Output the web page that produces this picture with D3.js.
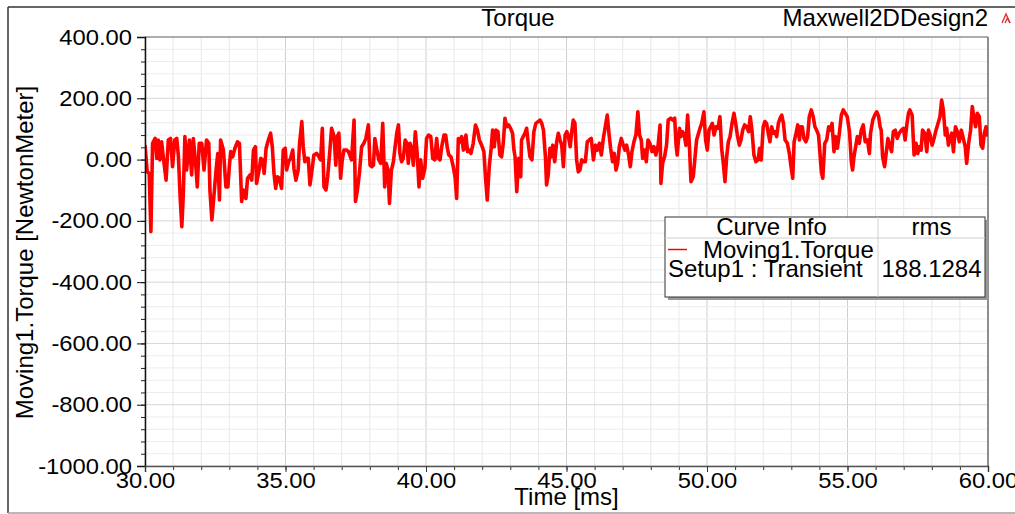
<!DOCTYPE html>
<html>
<head>
<meta charset="utf-8">
<script src="https://cdn.jsdelivr.net/npm/d3@7"></script>
<style>
body { margin: 0; background: #fff; }
text { font-family: "Liberation Sans", Arial, sans-serif; fill: #000; }
</style>
</head>
<body>
<div id="vizArea"></div>
<script>
// torque samples: [time in ms, torque in N.m]
const torqueSamples = [
  [30.00,47],[30.08,-40],[30.15,-45],[30.21,-235],[30.27,53],[30.36,69],[30.42,4],[30.47,64],[30.53,-1],[30.59,58],
  [30.65,9],[30.75,-67],[30.83,64],[30.91,69],[30.98,-23],[31.06,64],[31.13,69],[31.19,9],[31.25,-121],[31.31,-219],
  [31.36,-121],[31.42,75],[31.48,-34],[31.58,64],[31.66,-50],[31.72,69],[31.82,-34],[31.86,-89],[31.93,53],[32.02,53],
  [32.10,-34],[32.19,64],[32.27,53],[32.31,-99],[32.38,-197],[32.46,-110],[32.53,-34],[32.59,20],[32.65,-132],[32.69,64],
  [32.79,31],[32.88,-89],[32.95,-89],[33.00,-23],[33.05,26],[33.12,9],[33.20,37],[33.29,58],[33.36,53],[33.44,-137],
  [33.50,-99],[33.59,-127],[33.65,-61],[33.74,-50],[33.80,-67],[33.86,31],[33.93,42],[33.97,-78],[34.06,-34],[34.12,4],
  [34.18,-1],[34.24,-45],[34.31,37],[34.39,64],[34.47,86],[34.53,42],[34.59,-45],[34.65,-94],[34.71,-56],[34.78,-61],
  [34.86,-94],[34.92,31],[34.99,37],[35.04,-34],[35.11,-7],[35.18,4],[35.26,31],[35.30,-29],[35.37,-67],[35.45,-34],
  [35.50,53],[35.58,124],[35.63,42],[35.69,-7],[35.75,4],[35.81,4],[35.87,-83],[35.96,-23],[36.01,15],[36.11,20],
  [36.19,9],[36.25,-1],[36.31,102],[36.37,-89],[36.44,-99],[36.50,-56],[36.58,31],[36.64,102],[36.73,75],[36.79,-18],
  [36.84,75],[36.90,86],[36.96,-61],[37.02,-1],[37.08,31],[37.18,31],[37.24,26],
  [37.35,-1],[37.44,129],[37.49,-137],[37.56,-99],[37.63,-45],[37.71,42],[37.79,53],[37.86,69],[37.95,113],[38.01,-18],
  [38.07,-23],[38.13,-18],[38.18,69],[38.24,37],[38.32,-1],[38.39,-12],[38.46,118],[38.53,-89],[38.58,-12],[38.65,-34],
  [38.70,-143],[38.77,-34],[38.84,-7],[38.90,42],[38.96,86],[39.02,113],[39.07,20],[39.13,-7],[39.19,4],[39.26,64],
  [39.32,53],[39.37,-12],[39.43,53],[39.49,37],[39.55,-18],[39.62,91],[39.69,15],[39.75,-89],[39.81,-1],[39.88,-61],
  [39.96,-29],[40.02,69],[40.09,80],[40.17,75],[40.24,4],[40.31,-1],[40.38,69],[40.44,4],[40.50,-1],[40.56,42],
  [40.64,80],[40.70,80],[40.76,37],[40.81,15],[40.89,9],[40.97,-23],[41.04,-61],[41.09,-127],[41.15,69],[41.21,58],
  [41.27,75],[41.33,31],[41.38,42],[41.42,80],[41.48,26],[41.54,31],[41.60,20],[41.68,53],[41.76,113],[41.83,96],
  [41.90,64],[41.98,47],[42.06,26],[42.12,-61],[42.18,-132],[42.25,-23],[42.32,37],[42.37,96],[42.43,42],[42.49,96],
  [42.56,91],[42.63,15],[42.69,9],[42.75,53],[42.81,135],[42.87,107],[42.94,113],[43.01,102],[43.08,86],[43.13,31],
  [43.17,9],[43.23,-105],[43.30,4],[43.37,-56],[43.40,64],[43.46,75],[43.52,86],[43.58,102],[43.64,53],[43.70,9],
  [43.77,-1],[43.84,91],[43.91,118],[43.99,124],[44.06,129],[44.12,118],[44.18,96],[44.25,9],[44.29,-83],[44.35,-50],
  [44.41,37],[44.46,9],[44.51,47],[44.58,-7],[44.65,58],[44.71,86],[44.77,64],
  [44.83,47],[44.89,-23],[44.95,80],[45.01,91],[45.07,75],[45.13,42],[45.18,86],[45.24,129],[45.30,118],[45.36,-1],
  [45.42,-40],[45.48,-34],[45.54,-1],[45.60,-7],[45.67,-7],[45.74,58],[45.81,64],[45.88,69],[45.96,-1],[46.03,47],
  [46.10,31],[46.17,53],[46.24,15],[46.31,69],[46.38,107],[46.45,145],[46.51,86],[46.57,37],[46.64,-7],[46.70,20],
  [46.76,-34],[46.82,-12],[46.88,42],[46.95,69],[47.02,47],[47.08,31],[47.14,47],[47.21,15],[47.27,-23],[47.33,26],
  [47.40,58],[47.47,80],[47.54,156],[47.60,80],[47.66,64],[47.71,4],[47.78,31],[47.84,-7],[47.90,64],[47.97,53],
  [48.04,26],[48.11,42],[48.18,15],[48.26,47],[48.33,113],[48.36,-78],[48.42,-12],[48.49,9],[48.56,47],[48.62,129],
  [48.71,135],[48.78,129],[48.85,135],[48.90,47],[48.94,15],[49.02,102],[49.07,75],[49.13,91],[49.19,80],[49.25,47],
  [49.31,145],[49.37,53],[49.43,-72],[49.51,-56],[49.57,4],[49.63,64],[49.73,96],[49.81,118],[49.89,156],[49.95,64],
  [50.01,31],[50.07,96],[50.13,107],[50.19,118],[50.25,80],[50.32,107],[50.39,102],[50.46,140],[50.52,37],[50.58,-12],
  [50.64,-72],[50.70,9],[50.76,58],[50.82,75],[50.89,118],[50.96,151],[51.02,118],[51.08,80],[51.15,47],[51.21,64],
  [51.27,96],[51.34,113],[51.41,107],[51.48,91],[51.54,140],[51.60,96],[51.67,15],[51.74,-7],[51.82,-1],[51.87,37],
  [51.93,-1],[52.00,107],[52.06,124],[52.12,118],[52.18,86],
  [52.24,58],[52.30,107],[52.36,86],[52.42,91],[52.48,75],[52.54,118],[52.60,135],[52.66,145],[52.72,118],[52.78,64],
  [52.86,53],[52.93,20],[52.99,-23],[53.05,-61],[53.10,58],[53.17,86],[53.23,113],[53.29,64],[53.33,107],[53.39,107],
  [53.45,69],[53.52,58],[53.58,75],[53.64,140],[53.71,162],[53.78,140],[53.84,107],[53.90,96],[53.97,80],[54.02,20],
  [54.07,-40],[54.12,-61],[54.19,53],[54.26,64],[54.33,107],[54.40,96],[54.45,118],[54.52,26],[54.57,75],[54.64,37],
  [54.71,86],[54.78,145],[54.85,162],[54.92,151],[54.99,140],[55.07,91],[55.14,-12],[55.18,-34],[55.23,9],[55.29,42],
  [55.35,75],[55.42,53],[55.49,96],[55.56,113],[55.63,58],[55.71,64],[55.78,20],[55.82,86],[55.90,129],[55.97,145],
  [56.04,156],[56.11,140],[56.16,107],[56.20,96],[56.25,9],[56.32,-23],[56.39,31],[56.44,69],[56.51,42],[56.57,26],
  [56.63,91],[56.70,96],[56.77,69],[56.84,86],[56.92,96],[56.99,102],[57.05,64],[57.11,113],[57.17,151],[57.22,162],
  [57.30,145],[57.37,15],[57.44,53],[57.50,20],[57.56,42],[57.62,31],[57.67,96],[57.75,86],[57.82,26],[57.88,96],
  [57.94,80],[58.01,47],[58.08,69],[58.15,96],[58.22,118],[58.29,140],[58.35,194],[58.41,162],[58.48,80],[58.53,102],
  [58.59,47],[58.65,69],[58.71,86],[58.77,26],[58.84,107],[58.91,91],[58.98,58],[59.05,96],[59.12,69],[59.19,42],
  [59.24,-12],[59.31,53],[59.38,96],[59.44,173],[59.50,135],[59.56,107],[59.62,151],[59.69,140],[59.75,47],[59.81,37],
  [59.87,86],[59.93,107],[59.98,86],[60.00,75]
];

const xTickValues = [30, 35, 40, 45, 50, 55, 60];
const yTickValues = [-1000, -800, -600, -400, -200, 0, 200, 400];
const chartTitle = "Torque";
const designName = "Maxwell2DDesign2";
const xLabel = "Time [ms]";
const yLabel = "Moving1.Torque [NewtonMeter]";
const curveName = "Moving1.Torque";
const setupName = "Setup1 : Transient";
const rmsValue = "188.1284";

const W = 1015, H = 514;
const margin = {top: 37, right: 27, bottom: 48, left: 145};
const innerW = W - margin.left - margin.right,
    innerH = H - margin.top - margin.bottom;

// plain hyphen for negatives, like the original software
const fmt = d => d.toFixed(2);

const svg = d3.select("#vizArea")
    .append("svg")
    .attr("width", W)
    .attr("height", H);

// outer frame
svg.append("line").attr("x1", 8).attr("x2", W).attr("y1", 7).attr("y2", 7)
    .attr("stroke", "#333").attr("stroke-width", 1.5);
svg.append("line").attr("x1", 8).attr("x2", 8).attr("y1", 7).attr("y2", 513)
    .attr("stroke", "#333").attr("stroke-width", 1.5);
svg.append("line").attr("x1", 8).attr("x2", W).attr("y1", 513).attr("y2", 513)
    .attr("stroke", "#a0a0a0").attr("stroke-width", 1.5);

const x = d3.scaleLinear().domain([30, 60]).range([0, innerW]);
const y = d3.scaleLinear().domain([-1000, 400]).range([innerH, 0]);

const g = svg.append("g")
    .attr("transform", `translate(${margin.left},${margin.top})`);

// grid: minor every 1 ms / 40 N.m, major at labelled ticks
const xMinor = d3.range(30, 60.001, 1);
const yMinor = d3.range(-1000, 400.001, 40);

g.append("g").selectAll("line").data(xMinor).join("line")
    .attr("x1", d => x(d)).attr("x2", d => x(d)).attr("y1", 0).attr("y2", innerH)
    .attr("stroke", d => xTickValues.includes(d) ? "#cfcfcf" : "#e8e8e8");
g.append("g").selectAll("line").data(yMinor).join("line")
    .attr("x1", 0).attr("x2", innerW).attr("y1", d => y(d)).attr("y2", d => y(d))
    .attr("stroke", d => yTickValues.includes(d) ? "#d6d6d6" : "#ececec");

// plot border top/right
g.append("line").attr("x1", 0).attr("x2", innerW).attr("y1", 0).attr("y2", 0).attr("stroke", "#707070");
g.append("line").attr("x1", innerW).attr("x2", innerW).attr("y1", 0).attr("y2", innerH).attr("stroke", "#707070").attr("stroke-width", 1.5);

// curve
g.append("clipPath").attr("id", "plotClip")
    .append("rect").attr("width", innerW).attr("height", innerH);

g.append("path")
    .datum(torqueSamples)
    .attr("clip-path", "url(#plotClip)")
    .attr("fill", "none")
    .attr("stroke", "#ff0000")
    .attr("stroke-width", 3.6)
    .attr("stroke-linejoin", "round")
    .attr("d", d3.line().x(d => x(d[0])).y(d => y(d[1])));

function stretch(sel, k) {
    sel.each(function() {
        const w = this.getComputedTextLength();
        d3.select(this).attr("textLength", w * k).attr("lengthAdjust", "spacingAndGlyphs");
    });
}

// y axis
const yAxisMinor = g.append("g")
    .call(d3.axisLeft(y).tickValues(yMinor).tickSize(4).tickFormat(""));
yAxisMinor.select(".domain").remove();
yAxisMinor.selectAll("line").attr("stroke", "#222");

const yAxis = g.append("g")
    .call(d3.axisLeft(y).tickValues(yTickValues).tickSize(8).tickPadding(5).tickFormat(fmt));
yAxis.select(".domain").attr("stroke", "#111").attr("stroke-width", 1.5);
yAxis.selectAll("line").attr("stroke", "#111");
yAxis.selectAll("text")
    .attr("font-family", "Liberation Sans, Arial, sans-serif")
    .attr("font-size", 22).attr("fill", "#000")
    .call(stretch, 1.08);

// x axis
const xAxisMinor = g.append("g")
    .attr("transform", `translate(0,${innerH})`)
    .call(d3.axisBottom(x).tickValues(xMinor).tickSize(4).tickFormat(""));
xAxisMinor.select(".domain").remove();
xAxisMinor.selectAll("line").attr("stroke", "#333");

const xAxis = g.append("g")
    .attr("transform", `translate(0,${innerH})`)
    .call(d3.axisBottom(x).tickValues(xTickValues).tickSize(6).tickPadding(0).tickFormat(fmt));
xAxis.select(".domain").attr("stroke", "#555").attr("stroke-width", 1.5);
xAxis.selectAll("line").attr("stroke", "#333");
xAxis.selectAll("text")
    .attr("font-family", "Liberation Sans, Arial, sans-serif")
    .attr("font-size", 22).attr("fill", "#000")
    .call(stretch, 1.08);

// labels
svg.append("text").attr("x", margin.left + innerW / 2).attr("y", 505)
    .attr("text-anchor", "middle").attr("font-size", 24).text(xLabel);
svg.append("text")
    .attr("transform", `translate(33,${margin.top + innerH / 2 + 1}) rotate(-90)`)
    .attr("text-anchor", "middle").attr("font-size", 24).text(yLabel);
svg.append("text").attr("x", 518).attr("y", 26)
    .attr("text-anchor", "middle").attr("font-size", 24).text(chartTitle);
svg.append("text").attr("x", 988).attr("y", 26)
    .attr("text-anchor", "end").attr("font-size", 24).text(designName);

// small logo mark
const logo = svg.append("g").attr("transform", "translate(1002,23)")
    .attr("fill", "none").attr("stroke", "#e03030").attr("stroke-width", 1.4);
logo.append("path").attr("d", "M0,0 L4,-9 L8,0");
logo.append("path").attr("d", "M3,0 L5.5,-5 L8,0");

// legend table
const lg = svg.append("g").attr("transform", "translate(665,217)");
const lgW = 320, lgH = 80, col = 213, rowH = 21;
lg.append("rect").attr("x", 3).attr("y", 3).attr("width", lgW).attr("height", lgH).attr("fill", "#9a9a9a");
lg.append("rect").attr("width", lgW).attr("height", lgH).attr("fill", "#fff").attr("stroke", "#333");
lg.append("line").attr("x1", 0).attr("x2", lgW).attr("y1", rowH).attr("y2", rowH).attr("stroke", "#d0d0d0");
lg.append("line").attr("x1", col).attr("x2", col).attr("y1", 0).attr("y2", lgH).attr("stroke", "#d0d0d0");
lg.append("text").attr("x", col / 2).attr("y", 18).attr("text-anchor", "middle").attr("font-size", 24).text("Curve Info");
lg.append("text").attr("x", col + (lgW - col) / 2).attr("y", 18).attr("text-anchor", "middle").attr("font-size", 24).text("rms");
lg.append("line").attr("x1", 3).attr("x2", 22).attr("y1", 32.5).attr("y2", 32.5).attr("stroke", "#ff0000").attr("stroke-width", 1.5);
lg.append("text").attr("x", 38).attr("y", 40.5).attr("font-size", 24).text(curveName);
lg.append("text").attr("x", 3).attr("y", 59.5).attr("font-size", 24).text(setupName);
lg.append("text").attr("x", col + (lgW - col) / 2).attr("y", 59.5).attr("text-anchor", "middle").attr("font-size", 24).text(rmsValue);
</script>
</body>
</html>
